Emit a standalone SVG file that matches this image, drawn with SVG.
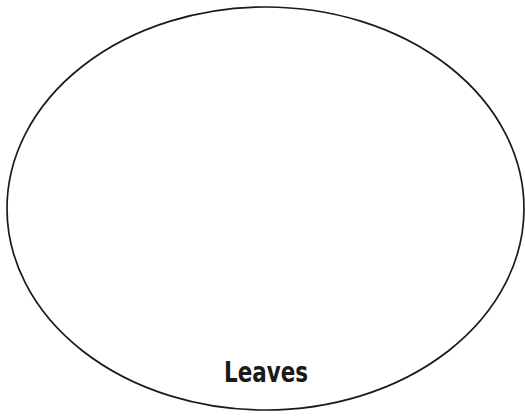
<svg xmlns="http://www.w3.org/2000/svg" width="525" height="416" viewBox="0 0 525 416">
<style>
.shape{fill:#fff;stroke:#1a1a1a;stroke-width:1.7}
.lbl{font-family:"DejaVu Sans Condensed","Liberation Sans",sans-serif;font-weight:bold;font-size:29px;fill:#1a1a1a}
</style>
<rect width="525" height="416" fill="#fff"/>
<g id="leaves">
<ellipse class="shape" cx="265.5" cy="208.5" rx="258.5" ry="201.5"/>
<text class="lbl" x="266" y="382" text-anchor="middle" textLength="84" lengthAdjust="spacingAndGlyphs">Leaves</text>
</g>
<g id="connectors"></g>
</svg>
